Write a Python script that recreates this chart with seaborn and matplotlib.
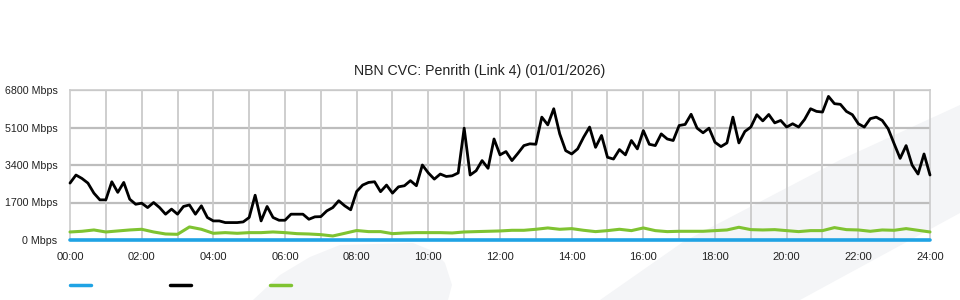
import numpy as np
import pandas as pd
import matplotlib
matplotlib.use("Agg")
import matplotlib.pyplot as plt
from matplotlib.lines import Line2D
from matplotlib.patches import Polygon
import seaborn as sns

# ---------------- data ----------------
title = "NBN CVC: Penrith (Link 4) (01/01/2026)"
y_ticks = [0, 1700, 3400, 5100, 6800]
y_tick_labels = ["0 Mbps", "1700 Mbps", "3400 Mbps", "5100 Mbps", "6800 Mbps"]
x_ticks = list(range(0, 25, 2))
x_tick_labels = ["%02d:00" % h for h in x_ticks]

# black series, 10-minute samples from 00:00 to 24:00
black_minutes = list(range(0, 1441, 10))
black_mbps = [
    2580, 2945, 2790, 2580, 2125, 1820, 1820, 2640, 2160, 2610,
    1850, 1620, 1670, 1470, 1700, 1470, 1170, 1400, 1170, 1520,
    1590, 1170, 1550, 1020, 865, 865, 790, 790, 790, 820,
    1020, 2030, 865, 1520, 1020, 895, 895, 1170, 1170, 1170,
    940, 1050, 1060, 1320, 1470, 1780, 1550, 1370, 2200, 2490,
    2610, 2640, 2190, 2490, 2125, 2410, 2460, 2690, 2460, 3400,
    3040, 2760, 2990, 2880, 2910, 3040, 5070, 2945, 3140, 3600,
    3250, 4580, 3860, 4010, 3600, 3930, 4280, 4360, 4340, 5570,
    5220, 5950, 4810, 4050, 3900, 4130, 4660, 5120, 4200, 4740,
    3750, 3670, 4100, 3860, 4510, 4130, 4960, 4340, 4280, 4810,
    4580, 4510, 5190, 5240, 5700, 5070, 4860, 5070, 4430, 4235,
    4400, 5570, 4400, 4920, 5120, 5680, 5400, 5690, 5310, 5420,
    5120, 5270, 5120, 5465, 5950, 5830, 5800, 6510, 6180, 6150,
    5830, 5680, 5270, 5120, 5500, 5570, 5420, 5040, 4360, 3700,
    4280, 3400, 2990, 3900, 2945,
]

# green series, 20-minute samples
green_minutes = list(range(0, 1441, 20))
green_mbps = [
    364, 395, 455, 364, 410, 455, 486, 364, 273, 258,
    592, 486, 304, 334, 304, 334, 334, 364, 334, 288,
    273, 243, 182, 304, 430, 380, 380, 288, 319, 334,
    334, 334, 319, 364, 380, 395, 410, 440, 440, 486,
    546, 486, 516, 440, 380, 425, 486, 425, 546, 425,
    380, 395, 395, 395, 425, 455, 577, 470, 455, 470,
    425, 380, 425, 425, 562, 470, 455, 395, 455, 440,
    516, 440, 364,
]

# blue series (flat at zero)
blue_minutes = [0, 1440]
blue_mbps = [0, 0]

blue_color = "#1fa3e4"
black_color = "#000000"
green_color = "#7fc331"

# ---------------- figure ----------------
sns.set_style("white")
plt.rcParams["font.family"] = ["Liberation Sans", "DejaVu Sans"]

W, H = 960, 300
fig = plt.figure(figsize=(W / 100, H / 100), dpi=100)
fig.patch.set_facecolor("white")

def px(x, y):
    return (x / W, 1 - y / H)

# faint background watermark shapes (behind everything)
shape1 = [(253, 300), (280, 275), (310, 257), (340, 245), (413, 243),
          (435, 252), (445, 263), (452, 285), (448, 300)]
shape2 = [(600, 300), (683, 242), (840, 160), (960, 105), (960, 213), (800, 300)]
for shp in (shape1, shape2):
    fig.patches.append(Polygon([px(*p) for p in shp], closed=True,
                               transform=fig.transFigure, facecolor="#f4f5f7",
                               edgecolor="none", zorder=-10))

ax = fig.add_axes([70 / W, 1 - 240 / H, 860 / W, 150 / H])
ax.set_facecolor("none")
ax.set_zorder(1)

df_black = pd.DataFrame({"hour": np.array(black_minutes) / 60.0, "mbps": black_mbps})
df_green = pd.DataFrame({"hour": np.array(green_minutes) / 60.0, "mbps": green_mbps})
df_blue = pd.DataFrame({"hour": np.array(blue_minutes) / 60.0, "mbps": blue_mbps})

sns.lineplot(data=df_green, x="hour", y="mbps", ax=ax, color=green_color,
             linewidth=2.2, zorder=4)
sns.lineplot(data=df_black, x="hour", y="mbps", ax=ax, color=black_color,
             linewidth=2.0, zorder=5)
sns.lineplot(data=df_blue, x="hour", y="mbps", ax=ax, color=blue_color,
             linewidth=2.6, zorder=6)
for ln in ax.lines:
    ln.set_clip_on(False)
    ln.set_solid_joinstyle("round")

ax.set_xlim(0, 24)
ax.set_ylim(0, 6800)
ax.set_xlabel("")
ax.set_ylabel("")

ax.set_yticks(y_ticks)
ax.set_yticklabels(y_tick_labels)
ax.set_xticks(x_ticks)
ax.set_xticklabels(x_tick_labels)
ax.set_xticks(list(range(1, 24, 2)), minor=True)

ax.tick_params(axis="y", length=0, pad=9, labelsize=7.7, labelcolor="#222222")
ax.tick_params(axis="x", which="both", length=7, width=1.2, color="#c4c4c4",
               pad=2, labelsize=8, labelcolor="#222222", direction="out")

ax.grid(False)
for yv in y_ticks[1:]:
    ax.axhline(yv, color="#bdbdbd", linewidth=1.6, zorder=1)
for h in range(1, 24):
    ax.axvline(h, color="#cacaca", linewidth=1.3, zorder=1)

for side in ("left", "right", "top"):
    ax.spines[side].set_visible(True)
    ax.spines[side].set_color("#cccccc")
    ax.spines[side].set_linewidth(1.2)
ax.spines["bottom"].set_visible(False)

fig.text(0.5, 1 - 71 / H, title, ha="center", va="center", fontsize=10.2,
         color="#222222")

# legend swatches (no text)
for x0, c in ((70, blue_color), (170, black_color), (270, green_color)):
    fig.add_artist(Line2D([x0 / W, (x0 + 21) / W], [1 - 285 / H, 1 - 285 / H],
                          transform=fig.transFigure, color=c, linewidth=2.5,
                          zorder=5))

fig.savefig("out.png", dpi=100)
